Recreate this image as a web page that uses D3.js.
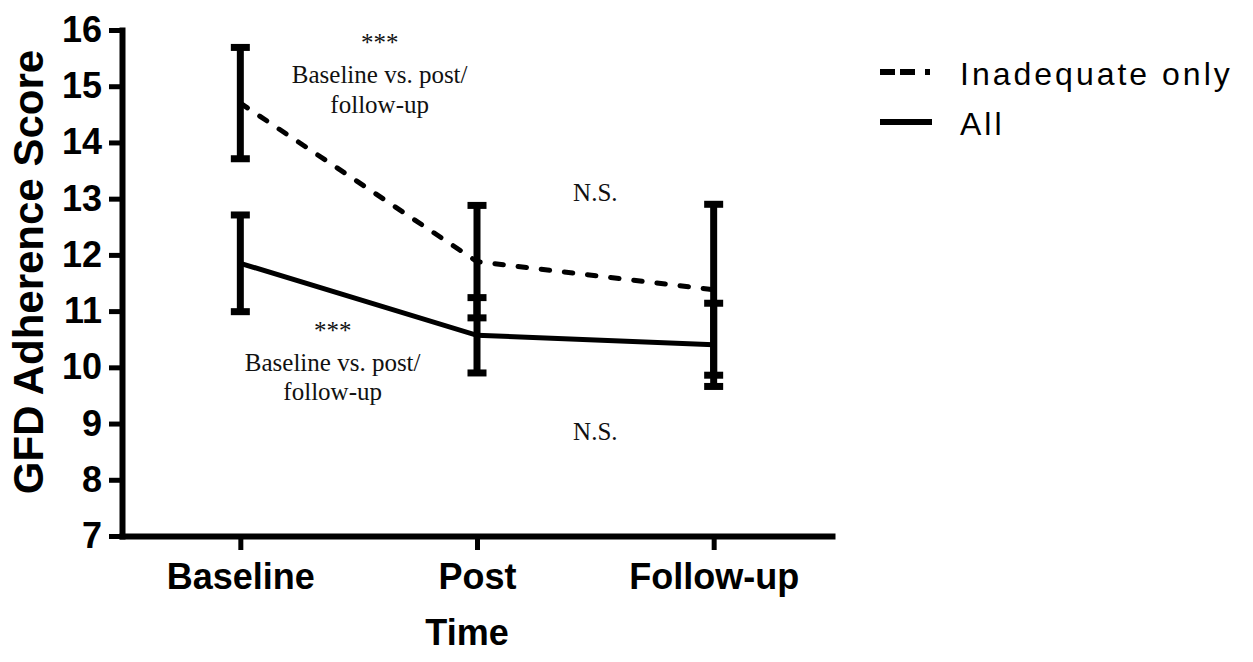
<!DOCTYPE html>
<html>
<head>
<meta charset="utf-8">
<script src="https://cdn.jsdelivr.net/npm/d3@7"></script>
<style>
  body { margin: 0; background: #fff; }
  .tick text { font-family: "Liberation Sans", Arial, sans-serif; font-weight: bold; fill: #000; }
  .ttl { font-family: "Liberation Sans", Arial, sans-serif; font-weight: bold; fill: #000; }
  .note { font-family: "Liberation Serif", "Times New Roman", serif; font-size: 25px; fill: #111; }
  .leg { font-family: "Liberation Sans", Arial, sans-serif; font-size: 32px; letter-spacing: 3px; fill: #000; }
</style>
</head>
<body>
<div id="chartHolder"></div>
<script>
// values (means with error bars)
const categories = ["Baseline", "Post", "Follow-up"];
const inadequateMean = [14.7, 11.88, 11.38];
const inadequateErr = [0.99, 1.0, 1.52];
const allMean = [11.85, 10.57, 10.40];
const allErr = [0.86, 0.67, 0.74];
const yTicks = [7, 8, 9, 10, 11, 12, 13, 14, 15, 16];
const seriesNames = ["Inadequate only", "All"];

const w = 1253;
const h = 662;

const x = d3.scalePoint()
            .domain(categories)
            .range([122, 832])
            .padding(0.5);

const y = d3.scaleLinear()
            .domain([7, 16])
            .range([536, 30]);

const svg = d3.select("#chartHolder")
              .append("svg")
              .attr("width", w)
              .attr("height", h);

// axes
const xAxis = d3.axisBottom(x).tickSize(14).tickSizeOuter(0).tickPadding(13);
const gx = svg.append("g")
   .attr("transform", "translate(0,536)")
   .call(xAxis);
gx.selectAll("text").style("font-size", "36px");
gx.selectAll("line").attr("stroke-width", 5);
gx.select(".domain").attr("stroke-width", 6).attr("stroke-linecap", "square");

const yAxis = d3.axisLeft(y).tickValues(yTicks).tickSize(13).tickSizeOuter(0).tickPadding(7);
const gy = svg.append("g")
   .attr("transform", "translate(122,0)")
   .call(yAxis);
gy.selectAll("text").style("font-size", "36px");
gy.selectAll("line").attr("stroke-width", 5);
gy.select(".domain").attr("stroke-width", 6).attr("stroke-linecap", "square");

svg.append("text")
   .attr("class", "ttl")
   .attr("text-anchor", "middle")
   .attr("transform", "translate(43,272)rotate(-90)")
   .style("font-size", "42px")
   .text("GFD Adherence Score");

svg.append("text")
   .attr("class", "ttl")
   .attr("text-anchor", "middle")
   .attr("x", 467)
   .attr("y", 645)
   .style("font-size", "36px")
   .text("Time");

// lines
const series = [
  { name: seriesNames[0], mean: inadequateMean, err: inadequateErr, dash: "8.5,14.8" },
  { name: seriesNames[1], mean: allMean, err: allErr, dash: null }
];

const line = d3.line()
               .x((d, i) => x(categories[i]))
               .y((d) => y(d));

series.forEach((s) => {
  svg.append("path")
     .datum(s.mean)
     .attr("d", line)
     .attr("fill", "none")
     .attr("stroke", "#000")
     .attr("stroke-width", 5)
     .attr("stroke-linecap", s.dash ? "round" : "butt")
     .attr("stroke-dasharray", s.dash);
});

// error bars
series.forEach((s) => {
  const bars = svg.append("g").selectAll("g")
    .data(s.mean.map((m, i) => ({ cat: categories[i], lo: m - s.err[i], hi: m + s.err[i] })))
    .enter()
    .append("g");
  bars.append("line")
      .attr("x1", (d) => x(d.cat))
      .attr("x2", (d) => x(d.cat))
      .attr("y1", (d) => y(d.lo))
      .attr("y2", (d) => y(d.hi))
      .attr("stroke", "#000")
      .attr("stroke-width", 7);
  ["lo", "hi"].forEach((k) => {
    bars.append("rect")
        .attr("x", (d) => x(d.cat) - 9.5)
        .attr("y", (d) => y(d[k]) - 3.5)
        .attr("width", 19)
        .attr("height", 7)
        .attr("fill", "#000");
  });
});

// significance notes
const midBP = (x("Baseline") + x("Post")) / 2;
const midPF = (x("Post") + x("Follow-up")) / 2;
const notes = [
  { x: midBP + 21, y: 51, t: "***" },
  { x: midBP + 21, y: 83, t: "Baseline vs. post/" },
  { x: midBP + 21, y: 113, t: "follow-up" },
  { x: midBP - 26, y: 339, t: "***" },
  { x: midBP - 26, y: 371, t: "Baseline vs. post/" },
  { x: midBP - 26, y: 400, t: "follow-up" },
  { x: midPF, y: 201, t: "N.S." },
  { x: midPF, y: 440, t: "N.S." }
];
svg.selectAll(".note")
   .data(notes)
   .enter()
   .append("text")
   .attr("class", "note")
   .attr("text-anchor", "middle")
   .attr("x", (d) => d.x)
   .attr("y", (d) => d.y)
   .text((d) => d.t);

// legend
const legend = svg.selectAll(".legendRow")
  .data(series)
  .enter()
  .append("g")
  .attr("class", "legendRow")
  .attr("transform", (d, i) => "translate(880," + (72 + i * 50) + ")");

legend.append("line")
      .attr("x1", 0)
      .attr("x2", 52)
      .attr("stroke", "#000")
      .attr("stroke-width", 6)
      .attr("stroke-dasharray", (d) => d.dash ? "15,5,15,10,5" : null);

legend.append("text")
      .attr("class", "leg")
      .attr("x", 80)
      .attr("y", 13)
      .text((d) => d.name);
</script>
</body>
</html>
